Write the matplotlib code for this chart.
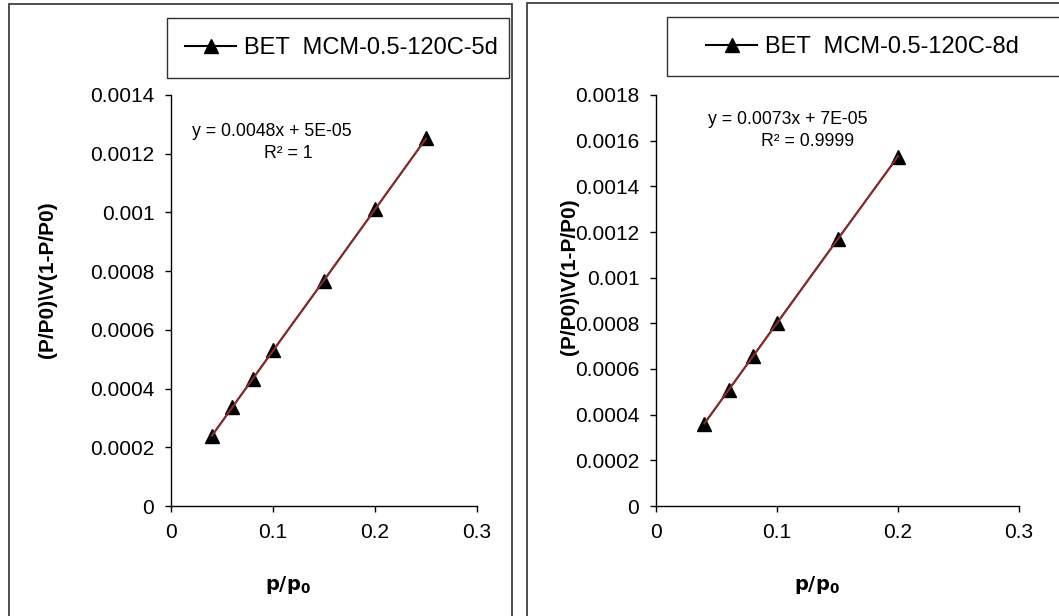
import numpy as np
import matplotlib
matplotlib.use("Agg")
import matplotlib.pyplot as plt
from matplotlib.patches import Rectangle
from matplotlib.ticker import FuncFormatter, MultipleLocator
from matplotlib.lines import Line2D

plt.rcParams['font.family'] = ['Liberation Sans', 'DejaVu Sans']

# ---- data ----
x_5d = [0.04, 0.06, 0.08, 0.10, 0.15, 0.20, 0.25]
y_5d = [0.000238, 0.000336, 0.000433, 0.000530, 0.000768, 0.001010, 0.001252]
x_8d = [0.04, 0.06, 0.08, 0.10, 0.15, 0.20]
y_8d = [0.000360, 0.000508, 0.000655, 0.000802, 0.001168, 0.001530]

label_5d = "BET  MCM-0.5-120C-5d"
label_8d = "BET  MCM-0.5-120C-8d"
eq_5d = ["y = 0.0048x + 5E-05", "R\u00b2 = 1"]
eq_8d = ["y = 0.0073x + 7E-05", "R\u00b2 = 0.9999"]
ylim_5d = (0, 0.0014)
ylim_8d = (0, 0.0018)
xticks = [0, 0.1, 0.2, 0.3]
ylabel = r"(P/P0)\V(1-P/P0)"
xlabel = r"$\mathbf{p/p_0}$"

W, H = 1059, 616
fig = plt.figure(figsize=(W / 100, H / 100), dpi=100)


def fx(px):
    return px / W


def fy(py):
    return 1 - py / H


def fmt(v, pos):
    if abs(v) < 1e-12:
        return "0"
    return f"{v:.4f}".rstrip('0').rstrip('.')


trend_color = '#8B2C2C'


def panel(ax_px, xs, ys, ylim, label, eq, eq_pos, legend_box, legend_center,
          ylabel_pos, xlabel_pos, frame):
    fig.patches.append(Rectangle((fx(frame[0]), fy(frame[3])),
                                 fx(frame[2] - frame[0]), (frame[3] - frame[1]) / H,
                                 transform=fig.transFigure, fill=False,
                                 edgecolor='#404040', linewidth=1.3, zorder=0))
    x0, x1, ytop, ybot = ax_px
    ax = fig.add_axes([fx(x0), fy(ybot), fx(x1 - x0), (ybot - ytop) / H])
    ax.plot(xs, ys, color='black', linewidth=1.2, marker='^', markersize=10,
            markerfacecolor='black', markeredgecolor='black', zorder=3)
    coef = np.polyfit(xs, ys, 1)
    tx = np.array([xs[0], xs[-1]])
    ax.plot(tx, np.polyval(coef, tx), color=trend_color, linewidth=1.5, zorder=4)
    ax.set_xlim(0, 0.3)
    ax.set_ylim(*ylim)
    ax.set_xticks(xticks)
    ax.yaxis.set_major_locator(MultipleLocator(0.0002))
    ax.xaxis.set_major_formatter(FuncFormatter(fmt))
    ax.yaxis.set_major_formatter(FuncFormatter(fmt))
    for s in ['top', 'right']:
        ax.spines[s].set_visible(False)
    for s in ['left', 'bottom']:
        ax.spines[s].set_linewidth(1.0)
        ax.spines[s].set_color('black')
    ax.tick_params(direction='out', length=4, width=1.0, labelsize=15,
                   pad=8, colors='black')
    ax.patch.set_alpha(0)

    for (t, (px, py)) in zip(eq, eq_pos):
        fig.text(fx(px), fy(py), t, ha='center', va='center', fontsize=12.7)

    lx0, ly0, lx1, ly1 = legend_box
    fig.patches.append(Rectangle((fx(lx0), fy(ly1)), fx(lx1 - lx0), (ly1 - ly0) / H,
                                 transform=fig.transFigure, fill=False,
                                 edgecolor='#303030', linewidth=1.0, zorder=1))
    handle = Line2D([], [], color='black', linewidth=1.5, marker='^', markersize=10,
                    markerfacecolor='black', markeredgecolor='black')
    fig.legend([handle], [label], loc='center',
               bbox_to_anchor=(fx(legend_center[0]), fy(legend_center[1])),
               bbox_transform=fig.transFigure, frameon=False, fontsize=17,
               handlelength=2.2, handletextpad=0.3, borderpad=0)

    fig.text(fx(ylabel_pos[0]), fy(ylabel_pos[1]), ylabel, rotation=90,
             ha='center', va='center', fontsize=15, fontweight='bold')
    fig.text(fx(xlabel_pos[0]), fy(xlabel_pos[1]), xlabel, ha='center',
             va='center', fontsize=14)
    return ax


panel((171, 477, 95, 506), x_5d, y_5d, ylim_5d, label_5d, eq_5d,
      [(272, 131), (288, 153)], (167, 18, 509, 78), (341, 48),
      (48, 280), (288, 585), (9, 4, 512, 640))

panel((656, 1019, 95, 506), x_8d, y_8d, ylim_8d, label_8d, eq_8d,
      [(788, 120), (808, 141)], (667, 17, 1070, 76), (862, 47),
      (570, 277), (817, 585), (527, 3, 1080, 640))

fig.savefig("out.png", dpi=100)
